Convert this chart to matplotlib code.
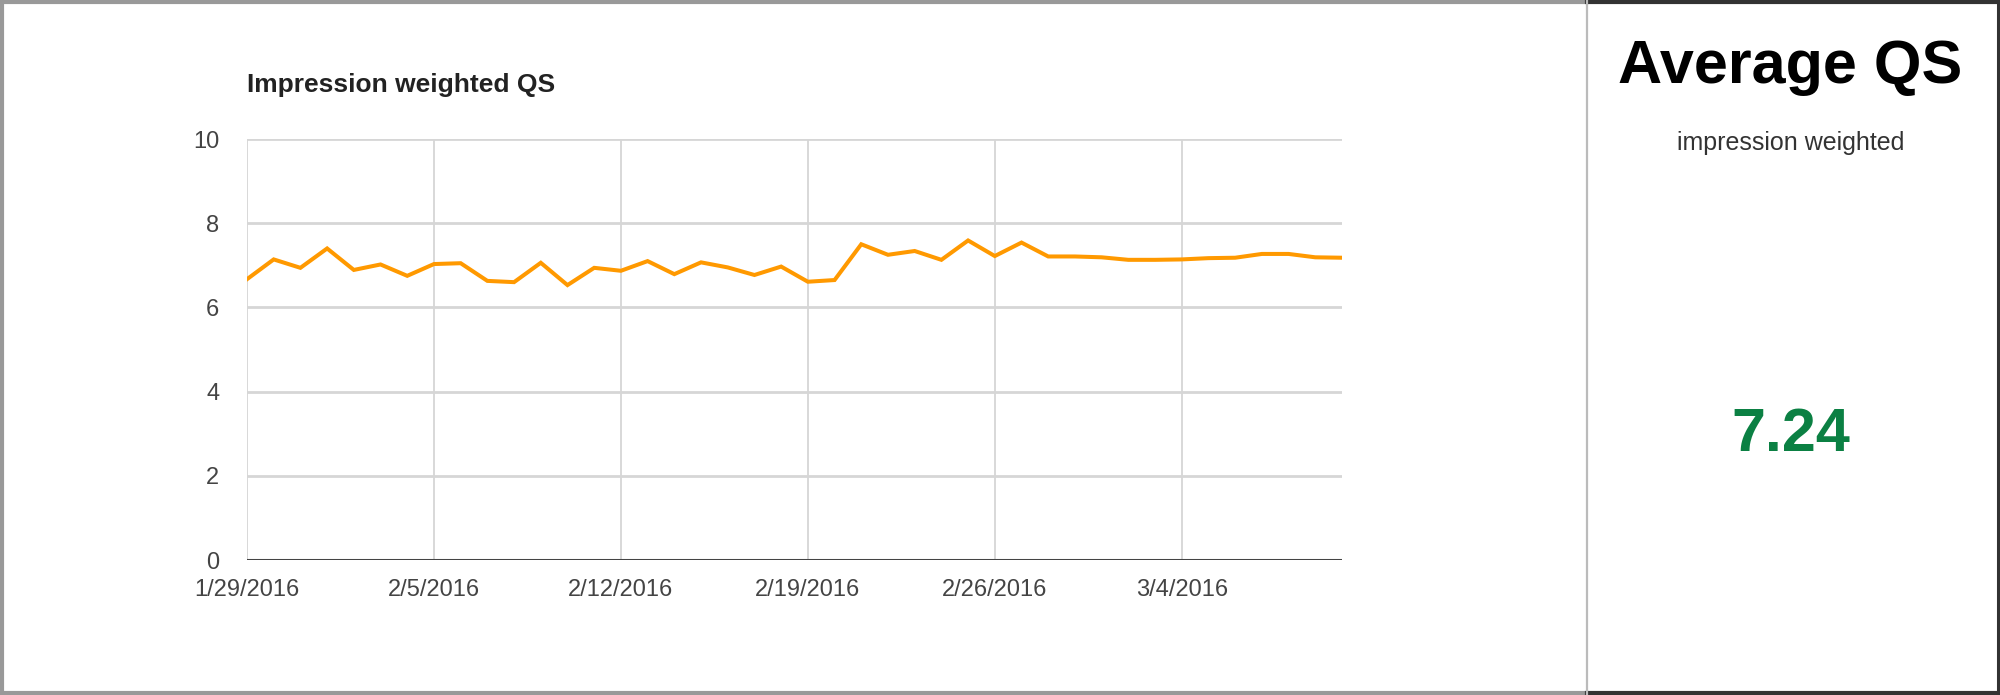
import numpy as np
import matplotlib
matplotlib.use('Agg')
import matplotlib.pyplot as plt
from matplotlib.lines import Line2D

plt.rcParams['font.family'] = ['Liberation Sans', 'DejaVu Sans']

# daily impression weighted QS, 1/29/2016 .. 3/10/2016
dates = np.arange('2016-01-29', '2016-03-11', dtype='datetime64[D]')
qs = [6.67, 7.14, 6.94, 7.40, 6.89, 7.02, 6.75, 7.03, 7.05, 6.63,
      6.60, 7.06, 6.53, 6.94, 6.87, 7.10, 6.79, 7.07, 6.95, 6.77,
      6.97, 6.61, 6.65, 7.50, 7.25, 7.34, 7.13, 7.59, 7.22, 7.54,
      7.21, 7.21, 7.19, 7.13, 7.13, 7.14, 7.17, 7.18, 7.27, 7.27,
      7.19, 7.18]

tick_dates = np.array(['2016-01-29', '2016-02-05', '2016-02-12',
                       '2016-02-19', '2016-02-26', '2016-03-04'], dtype='datetime64[D]')
tick_labels = ['1/29/2016', '2/5/2016', '2/12/2016', '2/19/2016', '2/26/2016', '3/4/2016']
y_ticks = [0, 2, 4, 6, 8, 10]

avg_qs = '7.24'

W, H = 2000, 695


def px(x, y):
    # pixel coords (from top-left) -> figure fraction
    return x / W, 1 - y / H


fig = plt.figure(figsize=(20, 6.95), dpi=100)
fig.patch.set_facecolor('white')

ax = fig.add_axes([0.1235, 0.1942, 0.5475, 0.6058])
ax.plot(dates.astype('datetime64[ns]'), qs, color='#ff9900', linewidth=2.9,
        solid_joinstyle='miter', zorder=3)

ax.set_xlim(dates[0].astype('datetime64[ns]'), dates[-1].astype('datetime64[ns]'))
ax.set_ylim(0, 10)
ax.set_xticks(tick_dates.astype('datetime64[ns]'))
ax.set_xticklabels(tick_labels)
ax.set_yticks(y_ticks)
ax.tick_params(axis='both', length=0, labelsize=17, labelcolor='#444444')
ax.tick_params(axis='y', pad=20)
ax.tick_params(axis='x', pad=14)

for s in ax.spines.values():
    s.set_visible(False)
ax.grid(axis='y', color='#d6d6d6', linewidth=2.0)
ax.grid(axis='x', color='#d6d6d6', linewidth=1.3)
ax.axhline(0, color='#444444', linewidth=2.2, zorder=2)
ax.set_axisbelow(True)

fig.text(*px(247, 92), 'Impression weighted QS', fontsize=19, fontweight='bold',
         color='#222222', ha='left', va='baseline')

# right panel: summary card
fig.text(*px(1790, 83), 'Average QS', fontsize=44, fontweight='bold',
         color='black', ha='center', va='baseline')
fig.text(*px(1791, 150), 'impression weighted', fontsize=18,
         color='#333333', ha='center', va='baseline')
fig.text(*px(1791, 451), avg_qs, fontsize=44, fontweight='bold',
         color='#0b8043', ha='center', va='baseline')


# borders
def frame_line(x0, y0, x1, y1, color, lw):
    a, b = px(x0, y0)
    c, d = px(x1, y1)
    fig.add_artist(Line2D([a, c], [b, d], color=color, linewidth=lw,
                          transform=fig.transFigure))


frame_line(0, 2, 1587, 2, '#999999', 3.0)
frame_line(2, 0, 2, 695, '#999999', 3.0)
frame_line(0, 693, 1587, 693, '#999999', 3.0)
frame_line(1587, 2, 2000, 2, '#333333', 3.0)
frame_line(1998, 0, 1998, 695, '#333333', 2.2)
frame_line(1587, 693, 2000, 693, '#333333', 3.0)
frame_line(1587, 0, 1587, 695, '#bbbbbb', 1.6)

fig.savefig('out.png', dpi=100, facecolor='white')
